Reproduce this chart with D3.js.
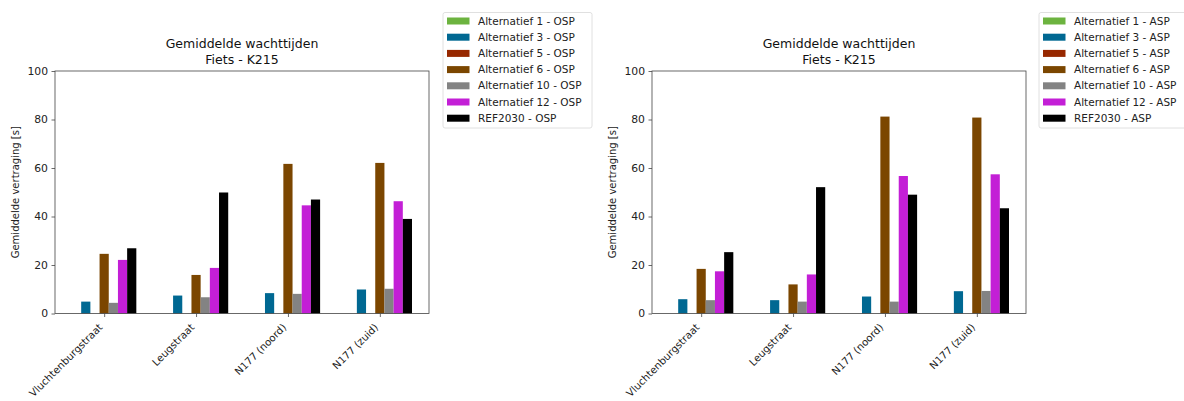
<!DOCTYPE html>
<html><head><meta charset="utf-8">
<script src="https://cdn.jsdelivr.net/npm/d3@7"></script>
<style>body{margin:0;background:#fff;} svg{display:block;font-family:"DejaVu Sans",sans-serif;}</style>
</head><body>
<svg id="c" width="1184" height="401"></svg>
<script>
const categories = ["Vluchtenburgstraat", "Leugstraat", "N177 (noord)", "N177 (zuid)"];
const seriesNames = ["Alternatief 1", "Alternatief 3", "Alternatief 5", "Alternatief 6", "Alternatief 10", "Alternatief 12", "REF2030"];
const seriesColors = ["#6cb33f", "#006892", "#972800", "#7b4600", "#838383", "#c31fd6", "#000000"];
// OSP values (left chart)
const alt1_OSP  = [0, 0, 0, 0];
const alt3_OSP  = [4.9, 7.4, 8.4, 9.9];
const alt5_OSP  = [0, 0, 0, 0];
const alt6_OSP  = [24.6, 15.9, 61.7, 62.1];
const alt10_OSP = [4.4, 6.7, 8.1, 10.2];
const alt12_OSP = [22.1, 18.8, 44.6, 46.3];
const ref_OSP   = [26.9, 49.9, 47.0, 39.0];
// ASP values (right chart)
const alt1_ASP  = [0, 0, 0, 0];
const alt3_ASP  = [5.9, 5.5, 7.0, 9.2];
const alt5_ASP  = [0, 0, 0, 0];
const alt6_ASP  = [18.4, 12.0, 81.2, 80.8];
const alt10_ASP = [5.5, 4.9, 4.9, 9.3];
const alt12_ASP = [17.4, 16.1, 56.7, 57.4];
const ref_ASP   = [25.3, 52.1, 49.0, 43.4];
const yTicks = [0, 20, 40, 60, 80, 100];
const titleLines = ["Gemiddelde wachttijden", "Fiets - K215"];
const yLabel = "Gemiddelde vertraging [s]";

const svg = d3.select("#c");
const barW = 0.1;

function drawChart(opts) {
  const {left, right, top, bottom, data, suffix, legendX} = opts;
  const g = svg.append("g");
  const x = d3.scaleLinear().domain([-0.535, 3.535]).range([left, right]);
  const y = d3.scaleLinear().domain([0, 100]).range([bottom, top]);
  // bars
  data.forEach((vals, si) => {
    g.append("g").selectAll("rect").data(vals).join("rect")
      .attr("x", (d, i) => x(i + (si - 3) * barW - barW / 2))
      .attr("width", x(barW) - x(0))
      .attr("y", d => y(d))
      .attr("height", d => y(0) - y(d))
      .attr("fill", seriesColors[si]);
  });
  // axes
  const yAx = g.append("g").attr("transform", `translate(${left},0)`)
    .call(d3.axisLeft(y).tickValues(yTicks).tickSize(3.5).tickPadding(3.5));
  const xAx = g.append("g").attr("transform", `translate(0,${bottom})`)
    .call(d3.axisBottom(x).tickValues(d3.range(categories.length)).tickFormat(i => categories[i]).tickSize(3.5).tickPadding(3));
  [yAx, xAx].forEach(a => {
    a.select(".domain").remove();
    a.selectAll("line").attr("stroke", "#444").attr("stroke-width", 0.8);
    a.selectAll("text").attr("fill", "#222").style("font-family", "DejaVu Sans");
  });
  yAx.selectAll("text").style("font-size", "10.8px");
  xAx.selectAll("text")
    .style("font-size", "10.2px")
    .attr("text-anchor", "end")
    .attr("dy", "0")
    .attr("y", 0).attr("x", 0)
    .attr("transform", "translate(-1.5,14.5) rotate(-45)");
  // frame
  g.append("rect").attr("x", left).attr("y", top).attr("width", right - left).attr("height", bottom - top)
    .attr("fill", "none").attr("stroke", "#444").attr("stroke-width", 0.8);
  // title
  const cx = (left + right) / 2;
  titleLines.forEach((t, i) => {
    g.append("text").attr("x", cx).attr("y", 48 + i * 16).attr("text-anchor", "middle")
      .style("font-size", "12.5px").attr("fill", "#111").text(t);
  });
  // y label
  g.append("text").attr("transform", `translate(${left - 36},${(top + bottom) / 2}) rotate(-90)`)
    .attr("text-anchor", "middle").style("font-size", "10px").attr("fill", "#222").text(yLabel);
  // legend
  const lg = g.append("g");
  lg.append("rect").attr("x", legendX).attr("y", 12.5).attr("width", 149).attr("height", 115.5)
    .attr("rx", 2).attr("fill", "#fff").attr("stroke", "#d8d8d8").attr("stroke-width", 0.8);
  seriesNames.forEach((n, i) => {
    const cy = 21 + i * 16.2;
    lg.append("rect").attr("x", legendX + 4).attr("y", cy - 3.5).attr("width", 22.5).attr("height", 7)
      .attr("fill", seriesColors[i]);
    lg.append("text").attr("x", legendX + 35).attr("y", cy).attr("dy", "0.35em")
      .style("font-size", "10.5px").attr("fill", "#222").text(`${n} - ${suffix}`);
  });
}

drawChart({left: 55, right: 429, top: 71, bottom: 313.5,
  data: [alt1_OSP, alt3_OSP, alt5_OSP, alt6_OSP, alt10_OSP, alt12_OSP, ref_OSP], suffix: "OSP", legendX: 443});
drawChart({left: 652, right: 1026, top: 71, bottom: 313.5,
  data: [alt1_ASP, alt3_ASP, alt5_ASP, alt6_ASP, alt10_ASP, alt12_ASP, ref_ASP], suffix: "ASP", legendX: 1039});
</script>
</body></html>
